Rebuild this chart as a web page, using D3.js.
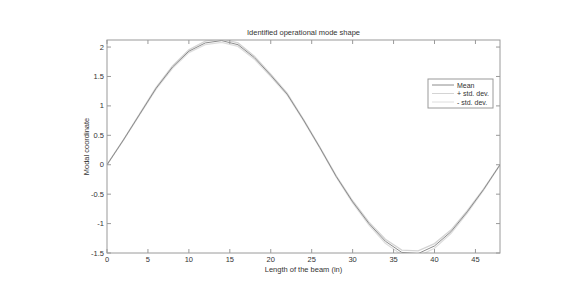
<!DOCTYPE html>
<html>
<head>
<meta charset="utf-8">
<script src="https://cdn.jsdelivr.net/npm/d3@7"></script>
<style>
  body { margin: 0; background: #fff; }
  svg text { font-family: "Liberation Sans", Arial, sans-serif; fill: #333; }
</style>
</head>
<body>
<div id="chart"></div>
<script>
'use strict';

// beam positions (in)
var positions = [0, 2, 4, 6, 8, 10, 12, 14, 16, 18, 20, 22, 24, 26, 28, 30, 32, 34, 36, 38, 40, 42, 44, 46, 48];
// mean modal coordinate
var meanValues = [0, 0.42, 0.86, 1.3, 1.66, 1.93, 2.07, 2.11, 2.04, 1.82, 1.52, 1.2, 0.76, 0.29, -0.2, -0.63, -1.0, -1.3, -1.49, -1.51, -1.38, -1.14, -0.8, -0.42, 0];
// standard deviation
var stdValues = [0, 0.005, 0.01, 0.015, 0.02, 0.025, 0.03, 0.03, 0.03, 0.025, 0.02, 0.015, 0.01, 0.01, 0.012, 0.018, 0.025, 0.035, 0.04, 0.045, 0.04, 0.03, 0.02, 0.01, 0];

var xTicks = [0, 5, 10, 15, 20, 25, 30, 35, 40, 45];
var yTicks = [-1.5, -1, -0.5, 0, 0.5, 1, 1.5, 2];
var legendLabels = ['Mean', '+ std. dev.', '- std. dev.'];

var W = 578, H = 294;
var margin = {left: 107, top: 40, right: 78, bottom: 41};
var innerW = W - margin.left - margin.right;
var innerH = H - margin.top - margin.bottom;

var svg = d3.select('#chart').append('svg')
    .attr('width', W)
    .attr('height', H);

var x = d3.scaleLinear().domain([0, 48]).range([0, innerW]);
var y = d3.scaleLinear().domain([-1.5, 2.12]).range([innerH, 0]);

var g = svg.append('g').attr('transform', 'translate(' + margin.left + ',' + margin.top + ')');

svg.append('defs').append('clipPath').attr('id', 'clip')
    .append('rect').attr('width', innerW).attr('height', innerH);

var series = [
    {name: legendLabels[0], color: '#8c8c8c', width: 1, vals: meanValues},
    {name: legendLabels[1], color: '#d4d4d4', width: 1.3, vals: meanValues.map(function (d, i) { return d + stdValues[i]; })},
    {name: legendLabels[2], color: '#dedede', width: 1.3, vals: meanValues.map(function (d, i) { return d - stdValues[i]; })}
];

var line = d3.line()
    .x(function (d) { return x(d[0]); })
    .y(function (d) { return y(d[1]); });

var plot = g.append('g').attr('clip-path', 'url(#clip)');
// draw std dev lines first, mean on top
[series[2], series[1], series[0]].forEach(function (s) {
    plot.append('path')
        .datum(positions.map(function (p, i) { return [p, s.vals[i]]; }))
        .attr('fill', 'none')
        .attr('stroke', s.color)
        .attr('stroke-width', s.width)
        .attr('d', line);
});

// axes box with inward ticks (matlab style)
var axisColor = '#9a9a9a';
g.append('rect')
    .attr('width', innerW).attr('height', innerH)
    .attr('fill', 'none').attr('stroke', axisColor).attr('stroke-width', 1);

var tickLen = 4;
xTicks.forEach(function (t) {
    g.append('line').attr('x1', x(t)).attr('x2', x(t)).attr('y1', innerH).attr('y2', innerH - tickLen).attr('stroke', axisColor);
    g.append('line').attr('x1', x(t)).attr('x2', x(t)).attr('y1', 0).attr('y2', tickLen).attr('stroke', axisColor);
    g.append('text')
        .attr('x', x(t)).attr('y', innerH + 8.5)
        .attr('text-anchor', 'middle')
        .attr('font-size', '7.5px')
        .text(t);
});
yTicks.forEach(function (t) {
    g.append('line').attr('x1', 0).attr('x2', tickLen).attr('y1', y(t)).attr('y2', y(t)).attr('stroke', axisColor);
    g.append('line').attr('x1', innerW).attr('x2', innerW - tickLen).attr('y1', y(t)).attr('y2', y(t)).attr('stroke', axisColor);
    g.append('text')
        .attr('x', -3).attr('y', y(t) + 2.5)
        .attr('text-anchor', 'end')
        .attr('font-size', '7.5px')
        .text(t);
});

// title and labels
svg.append('text')
    .attr('x', margin.left + innerW / 2).attr('y', 35)
    .attr('text-anchor', 'middle')
    .attr('font-size', '7.5px')
    .text('Identified operational mode shape');

svg.append('text')
    .attr('x', margin.left + innerW / 2).attr('y', 272)
    .attr('text-anchor', 'middle')
    .attr('font-size', '7.5px')
    .text('Length of the beam (in)');

svg.append('text')
    .attr('transform', 'translate(89,' + (margin.top + innerH / 2) + ') rotate(-90)')
    .attr('text-anchor', 'middle')
    .attr('font-size', '7.5px')
    .text('Modal coordinate');

// legend
var legend = svg.append('g').attr('transform', 'translate(428,79)');
legend.append('rect')
    .attr('width', 65).attr('height', 29)
    .attr('fill', '#fff').attr('stroke', axisColor);
series.forEach(function (s, i) {
    var ly = 6 + i * 8.5;
    legend.append('line')
        .attr('x1', 4).attr('x2', 26).attr('y1', ly).attr('y2', ly)
        .attr('stroke', s.color).attr('stroke-width', 1);
    legend.append('text')
        .attr('x', 29).attr('y', ly + 2.5)
        .attr('font-size', '7px')
        .text(s.name);
});
</script>
</body>
</html>
